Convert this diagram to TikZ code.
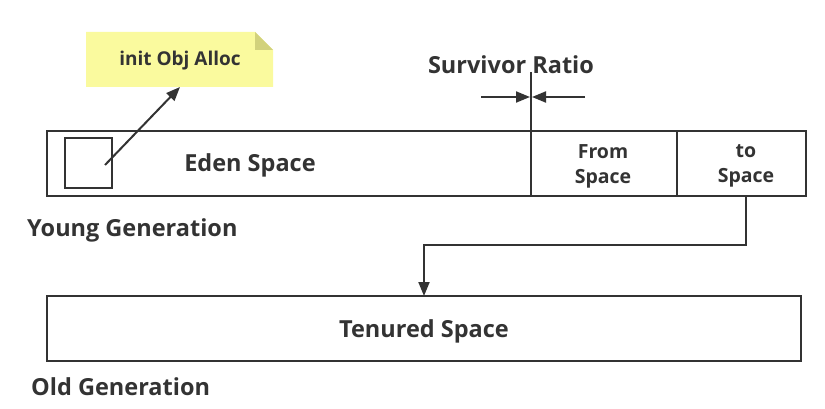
\documentclass[tikz,border=0pt]{standalone}
\usepackage{fontspec}
\setmainfont{Open Sans}
\usetikzlibrary{arrows.meta}
\definecolor{ink}{HTML}{333333}
\definecolor{notefill}{HTML}{FAFA9E}
\definecolor{notefold}{HTML}{D2D27C}
\tikzset{
  box/.style={draw=ink, line width=2.4pt},
  lbl/.style={text=ink, font=\bfseries\fontsize{23.5}{26}\selectfont, inner sep=0pt},
  small/.style={text=ink, font=\bfseries\fontsize{19.5}{25}\selectfont, inner sep=0pt, align=center},
  conn/.style={draw=ink, line width=2pt, -{Triangle[length=14pt,width=11pt]}},
}
\begin{document}
\begin{tikzpicture}[x=1pt,y=-1pt]
\useasboundingbox (0,0) rectangle (825,409);
% young generation
\draw[box] (47,131) rectangle (806,196);
\coordinate (sr) at (531,72);
\draw[ink, line width=2pt] (sr) -- (531,196);
\draw[ink, line width=2pt] (677,131) -- (677,196);
\draw[box] (65,138) rectangle (112,188);
\node[lbl] (eden) at (250,165) {Eden Space};
\node[small] (from) at (603,166) {From\\Space};
\node[small] (to) at (746,166) {to\\Space};
\node[lbl] (srt) at (511,65) {Survivor Ratio};
\coordinate (la) at (481,97);
\coordinate (lb) at (530,97);
\coordinate (ra) at (585,97);
\coordinate (rb) at (532,97);
\draw[conn] (la) -- (lb);
\draw[conn] (ra) -- (rb);
\node[lbl, anchor=west] (yg) at (27,230) {Young Generation};
% note
\fill[notefill] (86,32) -- (255,32) -- (273,50) -- (273,87) -- (86,87) -- cycle;
\fill[notefold] (255,32) -- (273,50) -- (255,50) -- cycle;
\node[small, font=\bfseries\fontsize{19}{22}\selectfont] (note) at (180,61) {init Obj Alloc};
\coordinate (obj) at (105,165);
\coordinate (notebot) at (180,87);
\draw[conn] (obj) -- (notebot);
% old generation
\draw[box] (47,296) rectangle (801,361);
\node[lbl] (ten) at (424,331) {Tenured Space};
\node[lbl, anchor=west] (og) at (31,387) {Old Generation};
\coordinate (tobot) at (746,196);
\coordinate (tentop) at (424,296);
\draw[conn] (tobot) -- (746,245) -- (424,245) -- (tentop);
\end{tikzpicture}
\end{document}
